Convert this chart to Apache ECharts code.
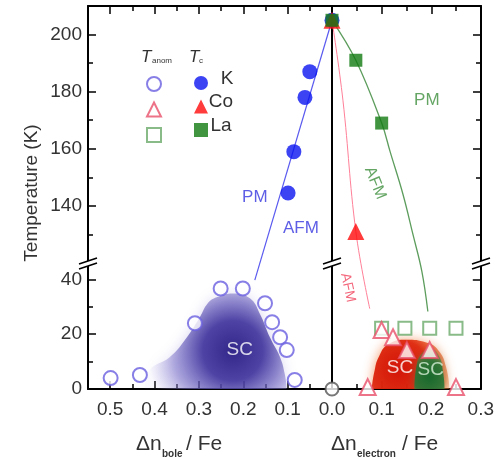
<!DOCTYPE html>
<html><head><meta charset="utf-8">
<script src="https://cdn.jsdelivr.net/npm/echarts@6/dist/echarts.min.js"></script>
<style>html,body{margin:0;padding:0;background:#fff}#c{width:497px;height:459px}</style>
</head><body><div id="c"></div>
<script>
// ---------- data (x = doping per Fe, y = temperature in K) ----------
// upper panel (T >= 120 K)
const kTc   = [[0,205],[0.05,187],[0.061,178],[0.086,159],[0.099,144.5]];
const kLine = [[0,205],[0.174,114]];
const coTc  = [[0,205],[0.048,131]];
const coLine= [[0,205],[0.022,177],[0.048,131],[0.076,104]];
const laTc  = [[0,205],[0.048,191],[0.10,169]];
const laLine= [[0,205],[0.048,191],[0.10,169],[0.117,159],[0.143,144],[0.163,130],[0.181,117],[0.193,103]];
// lower panel (T <= 46 K)
const kAnom  = [[0.499,4.0],[0.433,5.1],[0.309,24],[0.251,36.7],[0.201,36.7],[0.151,31.3],[0.135,24.4],[0.117,18.9],[0.102,14.2],[0.084,3.3]];
const parentAnom = [[0,0]];
const coAnom = [[0.10,21.5],[0.123,18.9],[0.151,14.2],[0.197,14.2],[0.072,0.7],[0.25,0.7]];
const laAnom = [[0.10,22.2],[0.147,22.2],[0.197,22.2],[0.25,22.2]];
// superconducting domes
const scHole = [[0.422,0],[0.411,6.9],[0.366,11.6],[0.327,18.9],[0.298,26.2],[0.280,31.3],[0.260,33.5],[0.223,34.9],[0.185,33.1],[0.163,27.6],[0.140,18.9],[0.117,11.6],[0.106,5.1],[0.102,0]];
const scCo = [[0.080,0],[0.085,6],[0.095,12],[0.115,16.5],[0.15,18],[0.19,17],[0.215,14],[0.23,8],[0.237,0]];
const scLa = [[0.166,0],[0.170,8],[0.181,13],[0.201,14.5],[0.216,12],[0.224,6.2],[0.227,0]];
// phase labels
const kNotes = [{value:[0.174,143],name:'PM'},{value:[0.07,132],name:'AFM'}];
const laNotePM = [{value:[0.191,177],name:'PM'}];
const laNoteAFM = [{value:[0.087,148],name:'AFM'}];
const coNoteAFM = [{value:[0.032,37],name:'AFM'}];
const scNoteHole = [{value:[0.208,14.5],name:'SC'}];
const scNoteCo = [{value:[0.137,7.6],name:'SC'}];
const scNoteLa = [{value:[0.199,6.9],name:'SC'}];
// ticks
const holeTickLabels = [0.1,0.2,0.3,0.4,0.5];
const elecTickLabels = [0,0.1,0.2,0.3];
const upperTickLabels = [140,160,180,200];
const lowerTickLabels = [0,20,40];

// ---------- chart ----------
const FONT = "'Liberation Sans', Arial, Helvetica, sans-serif";
const AXL = {color:'#000', width:2};
const TK = {color:'#000', width:1.5};

function xAx(grid, pos, inverse, max, labels){
  return {type:'value', gridIndex:grid, position:pos, min:0, max:max, interval:0.1, inverse:inverse,
    axisLine:{show:true, onZero:false, lineStyle:AXL},
    axisTick:{show:true, inside:true, length:8, lineStyle:TK},
    minorTick:{show:true, splitNumber:2, length:5, lineStyle:TK},
    splitLine:{show:false}, minorSplitLine:{show:false},
    axisLabel: labels ? {show:true, customValues:labels, formatter:v=>Number(v).toFixed(1),
      fontSize:19, color:'#333', margin:11, fontFamily:FONT} : {show:false}
  };
}
function yAx(grid, pos, min, max, majors, labels, ticks){
  return {type:'value', gridIndex:grid, position:pos, min:min, max:max, interval:20,
    axisLine:{show:true, onZero:false, lineStyle:AXL},
    axisTick:{show:ticks, inside:true, length:8, customValues:majors, lineStyle:TK},
    minorTick:{show:ticks, splitNumber:2, length:5, lineStyle:TK},
    splitLine:{show:false}, minorSplitLine:{show:false},
    axisLabel: labels ? {show:true, customValues:labels, fontSize:19, color:'#333', margin:6, fontFamily:FONT} : {show:false}
  };
}
function note(name, xi, yi, data, color, size, rotate){
  return {name:name, type:'scatter', xAxisIndex:xi, yAxisIndex:yi, data:data, symbolSize:0, silent:true, z:6,
    label:{show:true, position:'inside', formatter:'{b}', color:color, fontSize:size, fontFamily:FONT, rotate:rotate||0}};
}
function blob(name, xi, yi, data, grad, smooth, shadow, blur){
  return {name:name, type:'line', xAxisIndex:xi, yAxisIndex:yi, data:data, smooth:smooth, symbol:'none', silent:true, z:1,
    lineStyle:{width:0, opacity:0}, areaStyle:{color:grad, opacity:1, shadowBlur:blur, shadowColor:shadow}};
}

const chart = echarts.init(document.getElementById('c'));
const opt = {
  animation:false,
  backgroundColor:'#fff',
  grid:[
    {left:88, top:6, width:244, height:257},
    {left:332, top:6, width:149, height:257},
    {left:88, top:263, width:244, height:126},
    {left:332, top:263, width:149, height:126}
  ],
  xAxis:[
    xAx(0,'top',true,0.55,null),
    xAx(1,'top',false,0.3,null),
    xAx(2,'bottom',true,0.55,holeTickLabels),
    xAx(3,'bottom',false,0.3,elecTickLabels)
  ],
  yAxis:[
    yAx(0,'left',120,210,upperTickLabels,upperTickLabels,true),
    yAx(1,'left',120,210,[],null,false),
    yAx(1,'right',120,210,upperTickLabels,null,true),
    yAx(2,'left',0,46,lowerTickLabels,lowerTickLabels,true),
    yAx(3,'left',0,46,[],null,false),
    yAx(3,'right',0,46,lowerTickLabels,null,true)
  ],
  legend:[
    {data:['K_anom','Co_anom','La_anom'], orient:'vertical', left:141, top:71, itemWidth:14, itemHeight:14, itemGap:9.5,
     formatter:()=>'', selectedMode:false, textStyle:{fontSize:1}},
    {data:['K','Co','La'], orient:'vertical', left:189, top:71, itemWidth:14, itemHeight:14, itemGap:9.5,
     formatter:()=>'', selectedMode:false, textStyle:{fontSize:1}}
  ],
  series:[
    // SC domes
    blob('scHole',2,3,scHole,{type:'radial',x:0.62,y:0.6,r:0.9,colorStops:[
      {offset:0,color:'rgba(50,38,138,1)'},{offset:0.35,color:'rgba(68,56,158,0.92)'},
      {offset:0.7,color:'rgba(118,108,198,0.5)'},{offset:1,color:'rgba(180,175,230,0.05)'}]},0.45,'rgba(130,120,210,0.45)',14),
    blob('scCo',3,4,scCo,{type:'radial',x:0.35,y:0.6,r:1.2,colorStops:[
      {offset:0,color:'rgba(210,20,8,1)'},{offset:0.5,color:'rgba(222,40,14,0.95)'},
      {offset:0.8,color:'rgba(235,100,35,0.6)'},{offset:1,color:'rgba(245,160,70,0.15)'}]},0.5,'rgba(240,110,40,0.7)',12),
    blob('scLa',3,4,scLa,{type:'radial',x:0.5,y:0.7,r:0.9,colorStops:[
      {offset:0,color:'rgba(25,105,45,1)'},{offset:0.6,color:'rgba(40,118,55,0.9)'},
      {offset:1,color:'rgba(90,150,90,0.3)'}]},0.5,'rgba(60,130,70,0.5)',8),
    // boundary lines
    {name:'kLine', type:'line', xAxisIndex:0, yAxisIndex:0, data:kLine, symbol:'none', clip:false, silent:true, z:2,
     lineStyle:{color:'#5a5af0', width:1.2}},
    {name:'coLine', type:'line', xAxisIndex:1, yAxisIndex:1, data:coLine, smooth:0.4, symbol:'none', clip:false, silent:true, z:2,
     lineStyle:{color:'#ff8098', width:1}},
    {name:'laLine', type:'line', xAxisIndex:1, yAxisIndex:1, data:laLine, smooth:0.4, symbol:'none', clip:false, silent:true, z:2,
     lineStyle:{color:'#5c9c5c', width:1.3}},
    // T_c markers
    {name:'K', type:'scatter', xAxisIndex:0, yAxisIndex:0, data:kTc, symbol:'circle', symbolSize:15, z:4,
     itemStyle:{color:'#0a14f0'}},
    {name:'Co', type:'scatter', xAxisIndex:1, yAxisIndex:1, data:coTc, symbol:'triangle', symbolSize:17, z:4,
     itemStyle:{color:'#ff0a0a'}},
    {name:'La', type:'scatter', xAxisIndex:1, yAxisIndex:1, data:laTc, symbol:'rect', symbolSize:13, z:5,
     itemStyle:{color:'#127a12'}},
    // T_anom markers
    {name:'K_anom', type:'scatter', xAxisIndex:2, yAxisIndex:3, data:kAnom, symbol:'emptyCircle', symbolSize:14, z:4,
     itemStyle:{color:'#6a5fe0', borderWidth:1.5}},
    {name:'parent', type:'scatter', xAxisIndex:2, yAxisIndex:3, data:parentAnom, symbol:'emptyCircle', symbolSize:13, z:4,
     itemStyle:{color:'#555', borderWidth:1.5}},
    {name:'Co_anom', type:'scatter', xAxisIndex:3, yAxisIndex:4, data:coAnom, symbol:'emptyTriangle', symbolSize:16, z:4,
     itemStyle:{color:'#e8506a', borderWidth:1.5}},
    {name:'La_anom', type:'scatter', xAxisIndex:3, yAxisIndex:4, data:laAnom, symbol:'emptyRect', symbolSize:13, z:3,
     itemStyle:{color:'#6aaa6a', borderWidth:1.5}},
    // phase labels
    note('kNotes',0,0,kNotes,'#3434e0',17,0),
    note('laPM',1,1,laNotePM,'#3d8f3d',17,0),
    note('laAFM',1,1,laNoteAFM,'#3d8f3d',16,-68),
    note('coAFM',3,4,coNoteAFM,'#f0405a',14,-78),
    note('scHoleN',2,3,scNoteHole,'#ffffff',19,0),
    note('scCoN',3,4,scNoteCo,'#ffffff',19,0),
    note('scLaN',3,4,scNoteLa,'#d8f0d8',19,0)
  ],
  graphic:[]
};

// axis titles & legend headers
const G = opt.graphic;
G.push({type:'text', x:32, y:193, rotation:Math.PI/2, z:100,
  style:{text:'Temperature (K)', font:'19px '+FONT, fill:'#333', align:'center', verticalAlign:'middle'}});
function xTitle(x0, sub, subW){
  G.push({type:'text', x:x0, y:444, z:100, style:{text:'\u0394n', font:'21px '+FONT, fill:'#333', align:'left', verticalAlign:'middle'}});
  G.push({type:'text', x:x0+26, y:454, z:100, style:{text:sub, font:'bold 10px '+FONT, fill:'#333', align:'left', verticalAlign:'middle'}});
  G.push({type:'text', x:x0+26+subW, y:444, z:100, style:{text:'/ Fe', font:'21px '+FONT, fill:'#333', align:'left', verticalAlign:'middle'}});
}
xTitle(136,'bole',24);
xTitle(331,'electron',45);
G.push({type:'text', x:141, y:57, z:100, style:{text:'T', font:'italic 17px '+FONT, fill:'#333', align:'left', verticalAlign:'middle'}});
G.push({type:'text', x:152, y:61, z:100, style:{text:'anom', font:'8px '+FONT, fill:'#333', align:'left', verticalAlign:'middle'}});
G.push({type:'text', x:189, y:57, z:100, style:{text:'T', font:'italic 17px '+FONT, fill:'#333', align:'left', verticalAlign:'middle'}});
G.push({type:'text', x:199, y:61, z:100, style:{text:'c', font:'8px '+FONT, fill:'#333', align:'left', verticalAlign:'middle'}});
[['K',227,79],['Co',221,102],['La',221,126]].forEach(t=>{
  G.push({type:'text', x:t[1], y:t[2], z:100, style:{text:t[0], font:'19px '+FONT, fill:'#333', align:'center', verticalAlign:'middle'}});
});
// axis break marks
[88,332,481].forEach(x=>{
  G.push({type:'polygon', z:100, shape:{points:[[x-9,264],[x+9,258],[x+9,263],[x-9,269]]}, style:{fill:'#fff'}});
  G.push({type:'line', z:101, shape:{x1:x-9,y1:264,x2:x+9,y2:258}, style:{stroke:'#000', lineWidth:1.5}});
  G.push({type:'line', z:101, shape:{x1:x-9,y1:269,x2:x+9,y2:263}, style:{stroke:'#000', lineWidth:1.5}});
});

chart.setOption(opt);
</script></body></html>
